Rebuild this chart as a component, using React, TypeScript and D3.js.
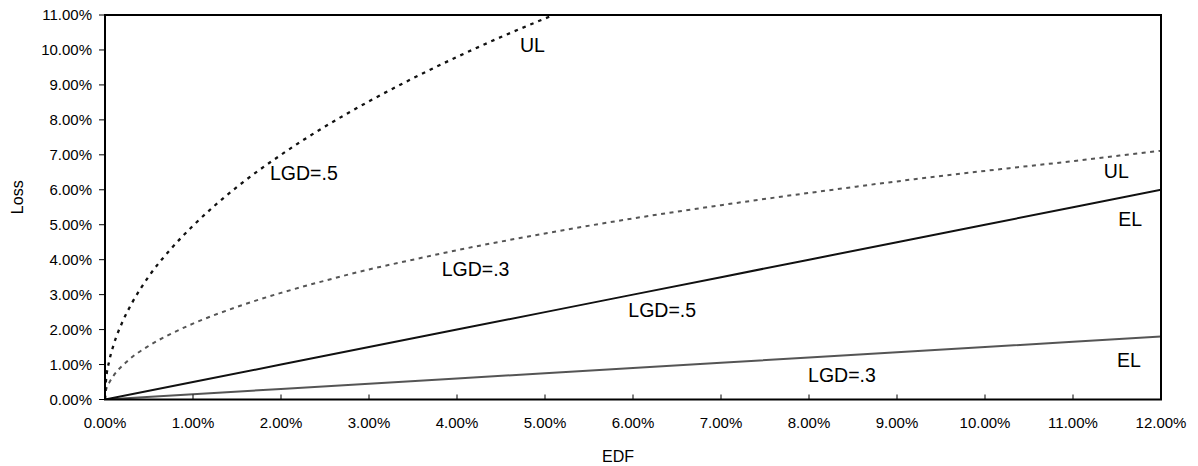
import React from "react";
import * as d3 from "d3";

// EDF (%) sample points
const edfUL = [0, 0.01, 0.05, 0.1, 0.2, 0.3, 0.5, 0.75, 1, 1.5, 2, 2.5, 3, 3.5, 4, 4.5, 5, 5.5, 6];
// UL, LGD = .5 (Loss %)
const ulLgd5 = [0, 0.5, 1.12, 1.58, 2.23, 2.73, 3.53, 4.31, 4.97, 6.08, 7.0, 7.81, 8.53, 9.19, 9.8, 10.37, 10.9, 11.4, 11.87];

const edfUL3 = [0, 0.01, 0.05, 0.1, 0.25, 0.5, 0.75, 1, 1.5, 2, 2.5, 3, 3.5, 4, 5, 6, 7, 8, 9, 10, 11, 12];
// UL, LGD = .3 (Loss %)
const ulLgd3 = [0, 0.25, 0.49, 0.69, 1.09, 1.54, 1.88, 2.17, 2.65, 3.05, 3.4, 3.72, 4.0, 4.27, 4.75, 5.18, 5.56, 5.91, 6.24, 6.54, 6.82, 7.12];

const edfEL = [0, 1, 2, 3, 4, 5, 6, 7, 8, 9, 10, 11, 12];
// EL, LGD = .5 (Loss %)
const elLgd5 = [0, 0.5, 1.0, 1.5, 2.0, 2.5, 3.0, 3.5, 4.0, 4.5, 5.0, 5.5, 6.0];
// EL, LGD = .3 (Loss %)
const elLgd3 = [0, 0.15, 0.3, 0.45, 0.6, 0.75, 0.9, 1.05, 1.2, 1.35, 1.5, 1.65, 1.8];

const xTicks = [0, 1, 2, 3, 4, 5, 6, 7, 8, 9, 10, 11, 12];
const yTicks = [0, 1, 2, 3, 4, 5, 6, 7, 8, 9, 10, 11];

const labels = [
  { text: "UL", x: 4.716, y: 9.95 },
  { text: "LGD=.5", x: 1.875, y: 6.28 },
  { text: "UL", x: 11.35, y: 6.34 },
  { text: "EL", x: 11.515, y: 4.96 },
  { text: "LGD=.3", x: 3.826, y: 3.53 },
  { text: "LGD=.5", x: 5.947, y: 2.37 },
  { text: "LGD=.3", x: 7.99, y: 0.51 },
  { text: "EL", x: 11.5, y: 0.94 },
];

const W = 1198;
const H = 466;
const M = { left: 105, right: 37, top: 15, bottom: 66.5 };

export default function App() {
  const x = d3.scaleLinear().domain([0, 12]).range([M.left, W - M.right]);
  const y = d3.scaleLinear().domain([0, 11]).range([H - M.bottom, M.top]);
  const fmt = (v: number) => d3.format(".2f")(v) + "%";

  const curve = d3
    .line<[number, number]>()
    .x((d) => x(d[0]))
    .y((d) => y(d[1]))
    .curve(d3.curveMonotoneX);
  const straight = d3
    .line<[number, number]>()
    .x((d) => x(d[0]))
    .y((d) => y(d[1]));

  const zip = (a: number[], b: number[]) => a.map((v, i) => [v, b[i]] as [number, number]);

  const font = "'Liberation Sans', Arial, Helvetica, sans-serif";
  const x0 = x(0), x1 = x(12), y0 = y(0), y1 = y(11);

  return (
    <svg
      width={W}
      height={H}
      style={{ position: "absolute", left: 0, top: 0, background: "#fff" }}
      fontFamily={font}
    >
      <defs>
        <clipPath id="plot">
          <rect x={x0} y={y1} width={x1 - x0} height={y0 - y1} />
        </clipPath>
      </defs>
      <rect x={0} y={0} width={W} height={H} fill="#fff" />

      <g clipPath="url(#plot)" fill="none">
        <path d={straight(zip(edfEL, elLgd3)) || ""} stroke="#555" strokeWidth={2} />
        <path d={straight(zip(edfEL, elLgd5)) || ""} stroke="#111" strokeWidth={2} />
        <path
          d={curve(zip(edfUL3, ulLgd3)) || ""}
          stroke="#555"
          strokeWidth={2}
          strokeDasharray="4,4.5"
        />
        <path
          d={curve(zip(edfUL, ulLgd5)) || ""}
          stroke="#111"
          strokeWidth={2.3}
          strokeDasharray="3.5,5"
        />
      </g>

      {/* frame */}
      <rect x={x0} y={y1} width={x1 - x0} height={y0 - y1} fill="none" stroke="#000" strokeWidth={2} />

      {/* y axis ticks */}
      {yTicks.map((t) => (
        <g key={"y" + t}>
          <line x1={x0 - 6} x2={x0} y1={y(t)} y2={y(t)} stroke="#000" strokeWidth={1} />
          <text x={x0 - 13} y={y(t)} dy="0.35em" textAnchor="end" fontSize={15} fill="#000">
            {fmt(t)}
          </text>
        </g>
      ))}

      {/* x axis ticks */}
      {xTicks.map((t) => (
        <g key={"x" + t}>
          <line x1={x(t)} x2={x(t)} y1={y0} y2={y0 - 5} stroke="#000" strokeWidth={1} />
          <text x={x(t)} y={y0 + 28.5} textAnchor="middle" fontSize={15} fill="#000">
            {fmt(t)}
          </text>
        </g>
      ))}

      {/* series labels */}
      {labels.map((l, i) => (
        <text key={"l" + i} x={x(l.x)} y={y(l.y)} fontSize={19.5} fill="#000">
          {l.text}
        </text>
      ))}

      {/* axis titles */}
      <text x={618} y={462} textAnchor="middle" fontSize={16} fill="#000">
        EDF
      </text>
      <text
        transform={`translate(23,${(y0 + y1) / 2 - 10}) rotate(-90)`}
        textAnchor="middle"
        fontSize={16}
        fill="#000"
      >
        Loss
      </text>
    </svg>
  );
}
